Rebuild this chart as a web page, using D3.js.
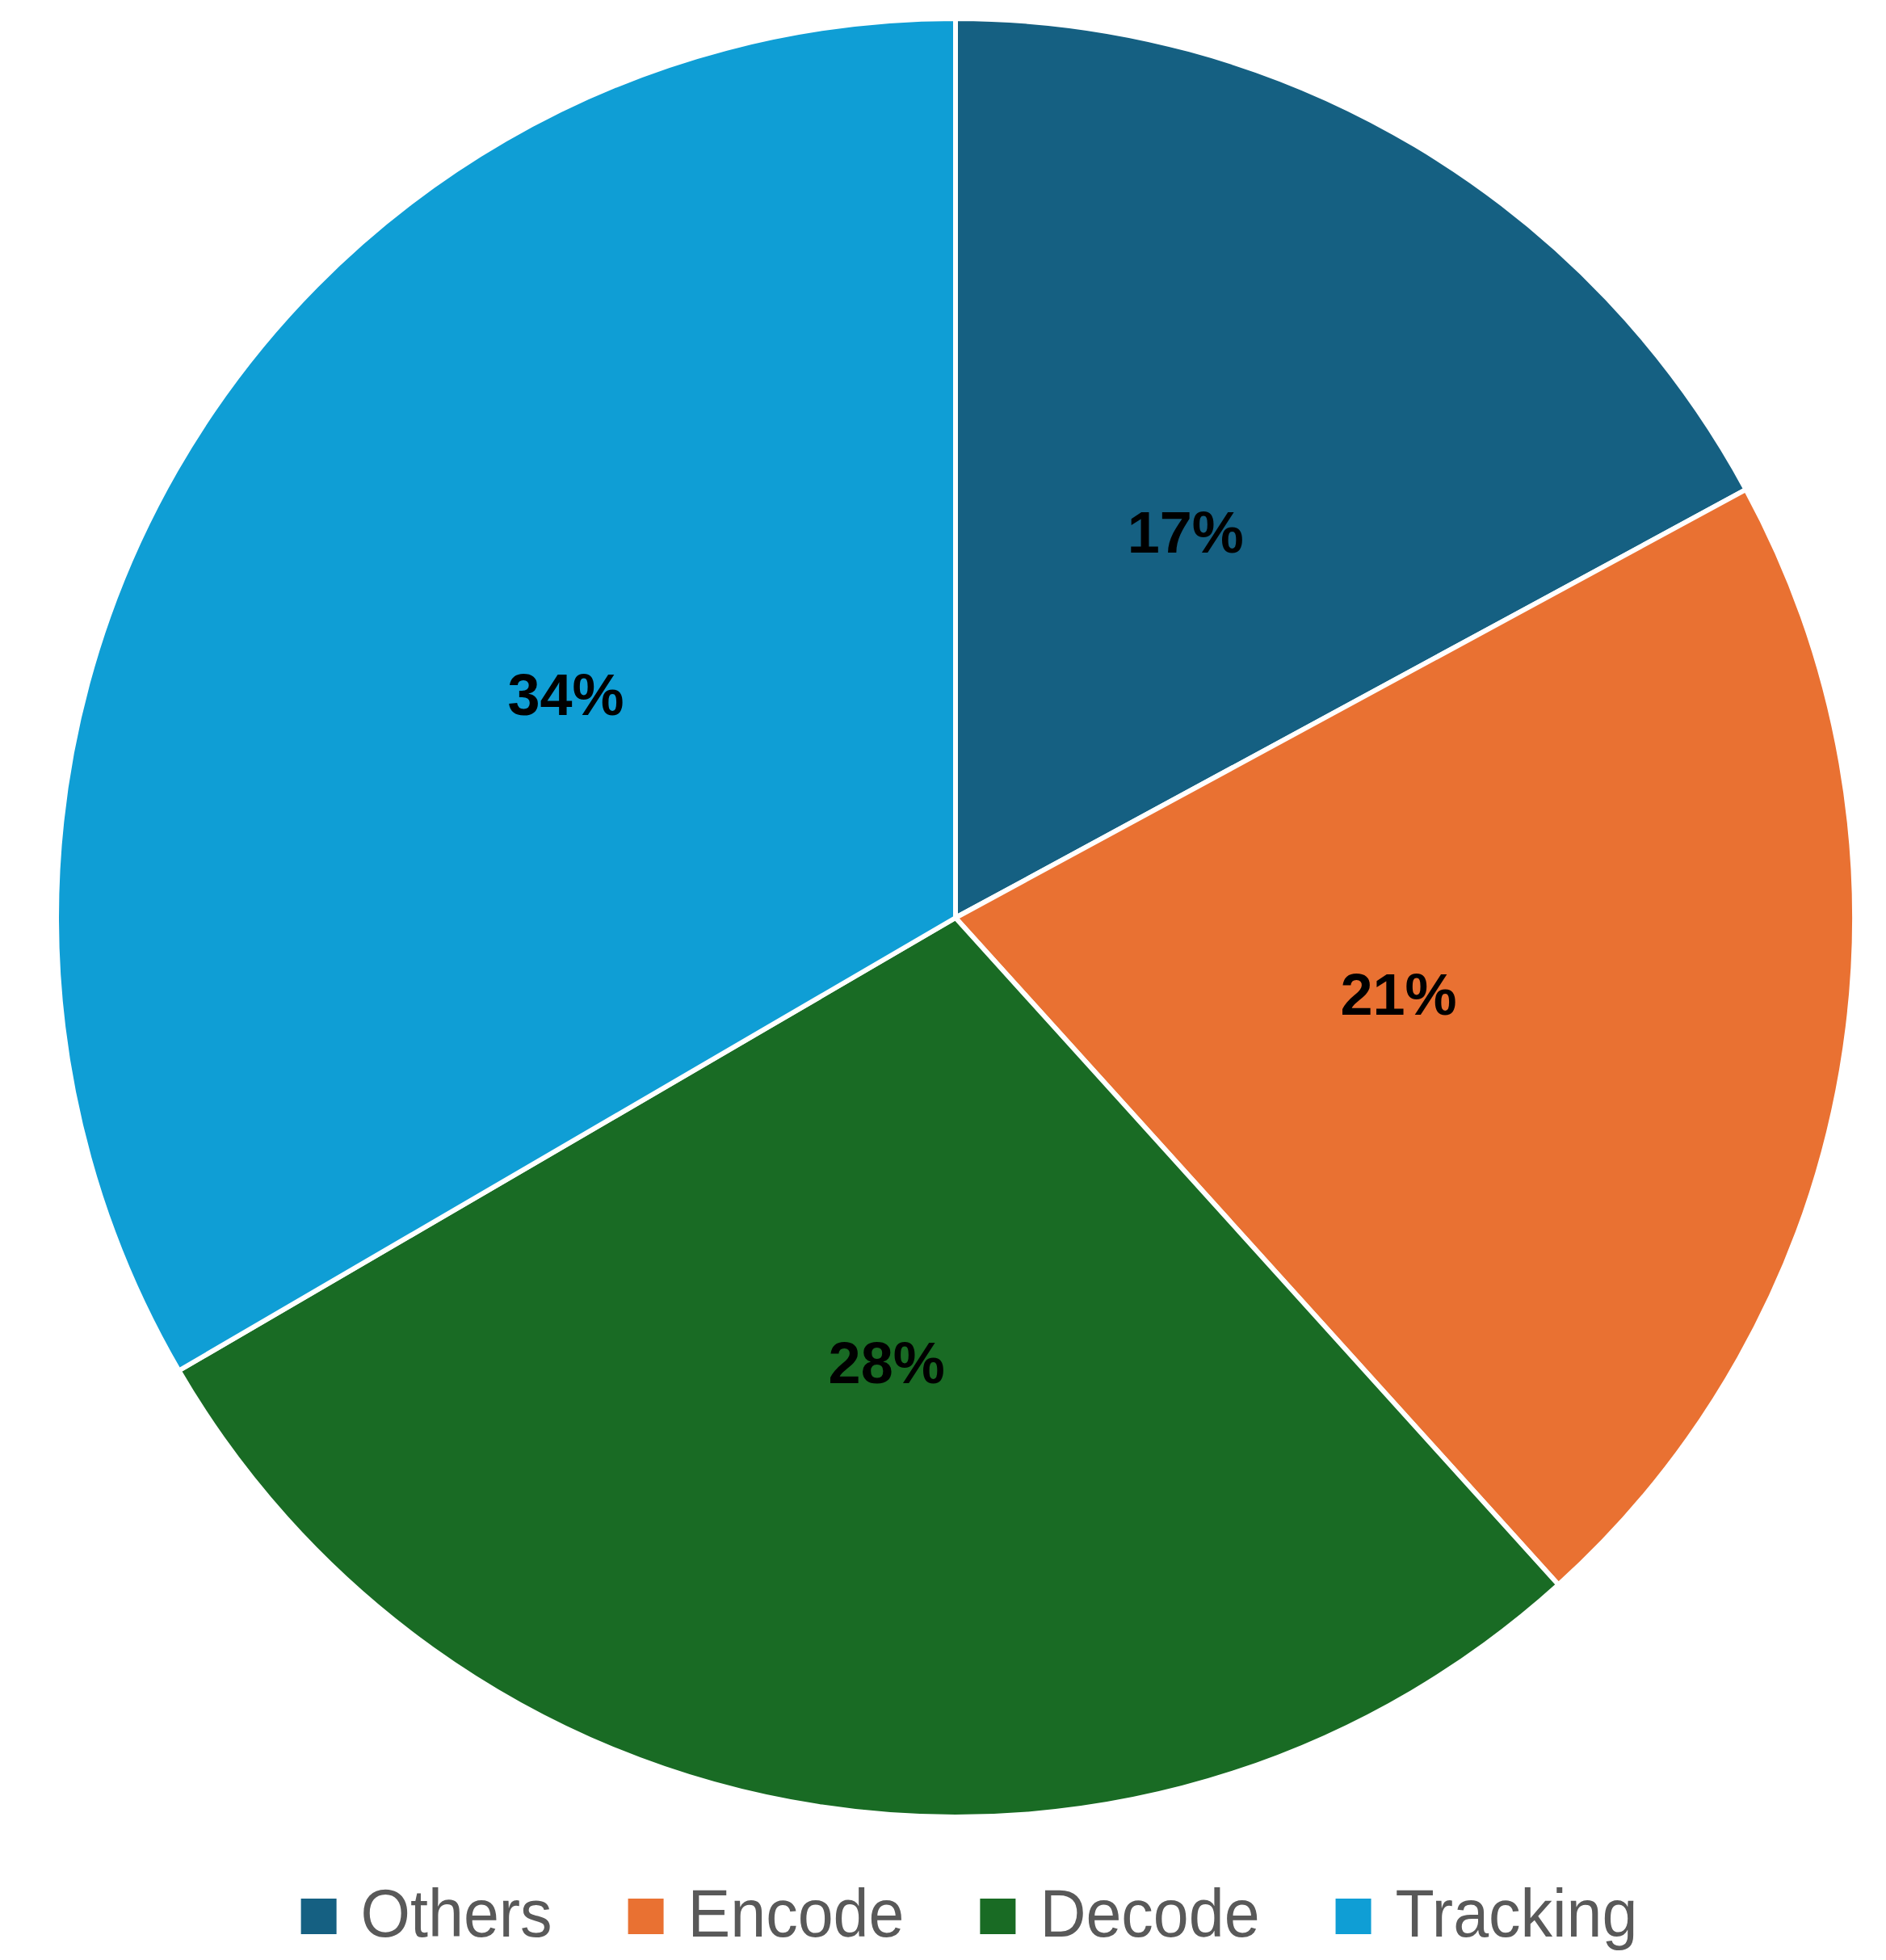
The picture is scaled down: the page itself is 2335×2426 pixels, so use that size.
<!DOCTYPE html>
<html>
<head>
<meta charset="utf-8">
<script src="https://cdn.jsdelivr.net/npm/d3@7"></script>
<style>
  body { margin: 0; background: #fff; }
  svg { display: block; }
</style>
</head>
<body>
<div id="chart"></div>
<script>
var svgWidth = 2335;
var svgHeight = 2426;

// slice data (share of time, percent)
var categories = ["Others", "Encode", "Decode", "Tracking"];
var values = [17.1, 21.2, 28.3, 33.4];
// data labels as printed on the chart
var labels = ["17%", "21%", "28%", "34%"];
var colors = ["#156082", "#E97132", "#196B24", "#0F9ED5"];

var cx = 1183;
var cy = 1136;
var radius = 1113;

var svg = d3.select("#chart")
  .append("svg")
  .attr("width", svgWidth)
  .attr("height", svgHeight);

var data = categories.map((c, i) => ({ name: c, value: values[i], label: labels[i], color: colors[i] }));

var pie = d3.pie()
  .sort(null)
  .value(d => d.value);

var arc = d3.arc()
  .innerRadius(0)
  .outerRadius(radius);

var labelArc = d3.arc()
  .innerRadius(radius / 2)
  .outerRadius(radius / 2);

var pieGroup = svg.append("g")
  .attr("transform", `translate(${cx},${cy})`);

var arcs = pie(data);

pieGroup.selectAll("path")
  .data(arcs)
  .enter()
  .append("path")
  .attr("d", arc)
  .attr("fill", d => d.data.color)
  .attr("stroke", "#ffffff")
  .attr("stroke-width", 6)
  .attr("stroke-linejoin", "round");

pieGroup.selectAll("text")
  .data(arcs)
  .enter()
  .append("text")
  .attr("transform", d => `translate(${labelArc.centroid(d)})`)
  .attr("text-anchor", "middle")
  .attr("dy", "0.36em")
  .style("font-family", "'Liberation Sans', Arial, sans-serif")
  .style("font-weight", "bold")
  .style("font-size", "72px")
  .attr("fill", "#000000")
  .text(d => d.data.label);

// legend
var legend = svg.append("g");
var legendY = 2372;
var boxSize = 44;
var boxGap = 30;
var itemGap = 94;
var fontSize = 84;
var legendCenter = 1200;

var items = legend.selectAll("g")
  .data(data)
  .enter()
  .append("g");

items.append("rect")
  .attr("width", boxSize)
  .attr("height", boxSize)
  .attr("y", legendY - boxSize / 2)
  .attr("fill", d => d.color);

items.append("text")
  .attr("x", boxSize + boxGap)
  .attr("y", 2397)
  .style("font-family", "'Liberation Sans', Arial, sans-serif")
  .style("font-size", fontSize + "px")
  .attr("fill", "#595959")
  .text(d => d.name);

// narrow the legend text a little, like the original font
items.select("text").each(function() {
  var w = this.getComputedTextLength();
  d3.select(this)
    .attr("textLength", w * 0.94)
    .attr("lengthAdjust", "spacingAndGlyphs");
});

// position legend items side by side, centred
var x = 0;
var offsets = [];
items.each(function() {
  offsets.push(x);
  var w = +d3.select(this).select("text").attr("textLength");
  x += boxSize + boxGap + w + itemGap;
});
var legendWidth = x - itemGap;
var startX = legendCenter - legendWidth / 2;
items.attr("transform", (d, i) => `translate(${startX + offsets[i]},0)`);
</script>
</body>
</html>
